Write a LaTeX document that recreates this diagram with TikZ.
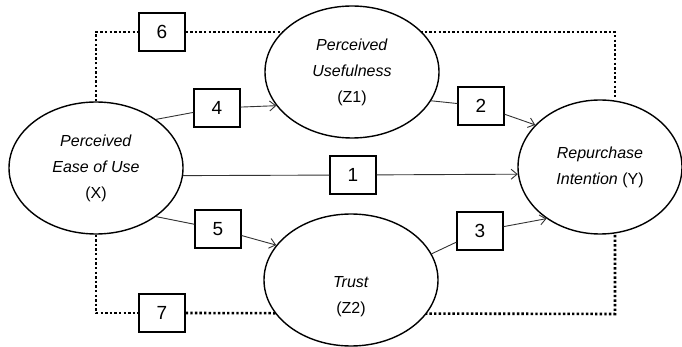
\documentclass[tikz,border=0pt]{standalone}
\usepackage{fontspec}
\setmainfont{Liberation Sans}
\usetikzlibrary{shapes.geometric, arrows.meta, backgrounds}
\tikzset{
    construct/.style={ellipse, minimum width=174pt, minimum height=132pt, inner sep=0pt, align=center, draw=black, fill=white, line width=1.4pt, font=\fontsize{16}{26}\selectfont},
    pathbox/.style={rectangle, minimum width=46pt, minimum height=38pt, inner sep=0pt, draw=black, fill=white, line width=1.3pt, font=\fontsize{19}{20}\selectfont},
    link/.style={draw=black!80, line width=0.9pt},
    arrow/.style={link, -{Straight Barb[length=6pt, width=10pt]}},
    dotline/.style={draw=black, line width=2.6pt, dash pattern=on 2.4pt off 2.2pt}
}

\begin{document}
\begin{tikzpicture}[x=1pt, y=-1pt]

\useasboundingbox (0,0) rectangle (682,347);

% Constructs
\node (x) [construct] at (96,168) {\textit{Perceived}\\\textit{Ease of Use}\\(X)};
\node (z1) [construct] at (352,72) {\textit{Perceived}\\\textit{Usefulness}\\(Z1)};
\node (z2) [construct] at (351,280) {\strut\\\textit{Trust}\\(Z2)};
\node (y) [construct, minimum width=164pt, minimum height=134pt] at (600,167) {\textit{Repurchase}\\\textit{Intention} (Y)};

% Path labels
\node (b1) [pathbox] at (353,175) {1};
\node (b2) [pathbox] at (481,106) {2};
\node (b3) [pathbox] at (480,231) {3};
\node (b4) [pathbox] at (217,108) {4};
\node (b5) [pathbox] at (218,229) {5};
\node (b6) [pathbox] at (162,32) {6};
\node (b7) [pathbox] at (162,313) {7};

% Corners of the dotted paths
\coordinate (tr) at (615,32);
\coordinate (br) at (615,314);

% Arrows
\draw [link] (x.-5) -- (b1);
\draw [arrow] (b1) -- (y.185);
\draw [link] (z1.-20) -- (b2);
\draw [arrow] (b2) -- (y.147);
\draw [link] (z2.18) -- (b3);
\draw [arrow] (b3) -- (y.224);
\draw [link] (x.39) -- (b4);
\draw [arrow] (b4) -- (z1.204);
\draw [link] (x.-39) -- (b5);
\draw [arrow] (b5) -- (z2.155);

% Dotted paths
\begin{scope}[on background layer]
\draw [dotline] (x.north) |- (b6.west);
\draw [dotline] (b6.east) -- (tr) -- (y.north -| tr);
\draw [dotline] (x.south) |- (b7.west);
\draw [dotline] (b7.east) -- (br) -- (y.south -| br);
\end{scope}

\end{tikzpicture}
\end{document}
